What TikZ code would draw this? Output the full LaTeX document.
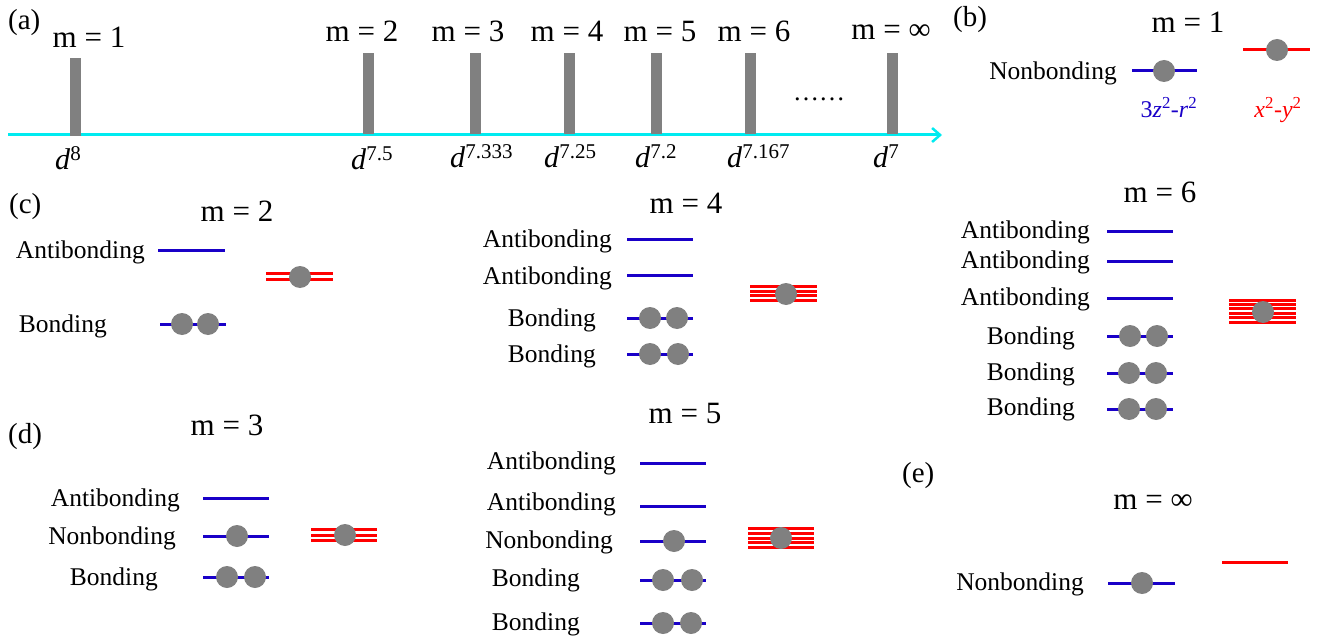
\documentclass[tikz,border=0pt]{standalone}
\usepackage{fontspec}
\setmainfont{Liberation Serif}
\usetikzlibrary{arrows.meta}
\definecolor{lvblue}{RGB}{25,0,200}
\definecolor{dotgray}{RGB}{128,128,128}
\definecolor{axcyan}{RGB}{0,235,240}
\tikzset{
  lbl/.style={font=\fontsize{25.5}{28}\selectfont, inner sep=0pt, anchor=east, yshift=-2pt},
  mlbl/.style={font=\fontsize{31}{34}\selectfont, inner sep=0pt, anchor=base},
  plbl/.style={font=\fontsize{29}{32}\selectfont, inner sep=0pt, anchor=base west},
  dlbl/.style={font=\fontsize{30}{34}\selectfont, inner sep=0pt, anchor=base west},
  olbl/.style={font=\fontsize{24}{26}\selectfont, inner sep=0pt, anchor=base},
  blev/.style={draw=lvblue, line width=3pt},
  rlev/.style={draw=red, line width=3pt},
  elec/.style={circle, fill=dotgray, minimum size=22pt, inner sep=0pt},
  barbox/.style={fill=dotgray},
  axis/.style={draw=axcyan, line width=3pt, -{Straight Barb[length=8pt,width=14pt,line width=2.5pt]}},
}
\newcommand\rstack[5]{%
  \foreach \i in {1,...,#4}{%
    \draw[rlev] (#1,{#3+(\i-(#4+1)/2)*#5}) -- (#2,{#3+(\i-(#4+1)/2)*#5});}}
\begin{document}
\begin{tikzpicture}[x=1pt,y=-1pt]
\useasboundingbox (0,0) rectangle (1327,639);

% ---------------- (a)
\node[plbl] (pa) at (8,30) {(a)};
\coordinate (axL) at (8,135);
\coordinate (axR) at (942,135);
\draw[axis] (axL) -- (axR);
\fill[barbox] (70,58) rectangle (80.5,136);
\foreach \x in {363,470,564,651,745,887}{\fill[barbox] (\x,53) rectangle (\x+10.5,134);}
\node[mlbl] (a1) at (89,48) {m = 1};
\node[mlbl] (a2) at (362,42) {m = 2};
\node[mlbl] (a3) at (468,42) {m = 3};
\node[mlbl] (a4) at (567,42) {m = 4};
\node[mlbl] (a5) at (660,42) {m = 5};
\node[mlbl] (a6) at (754,42) {m = 6};
\node[mlbl] (ainf) at (891,40) {m = ∞};
\node[dlbl] (d1) at (55,170) {\textit{d}\textsuperscript{8}};
\node[dlbl] (d2) at (351,170) {\textit{d}\textsuperscript{7.5}};
\node[dlbl] (d3) at (450,168) {\textit{d}\textsuperscript{7.333}};
\node[dlbl] (d4) at (544,168) {\textit{d}\textsuperscript{7.25}};
\node[dlbl] (d5) at (635,168) {\textit{d}\textsuperscript{7.2}};
\node[dlbl] (d6) at (727,168) {\textit{d}\textsuperscript{7.167}};
\node[dlbl] (d7) at (873,168) {\textit{d}\textsuperscript{7}};
\node[font=\fontsize{26}{28}\selectfont, inner sep=0pt, anchor=base] (dots) at (819,101) {\dots\dots};

% ---------------- (b)
\node[plbl] (pb) at (953,27) {(b)};
\node[mlbl] (b-m) at (1188,33) {m = 1};
\node[lbl] (b-nl) at (1117,71) {Nonbonding};
\coordinate (b-n1) at (1132,71); \coordinate (b-n2) at (1197,71);
\draw[blev] (b-n1) -- (b-n2);
\node[elec] (b-e1) at (1164,71) {};
\coordinate (b-r1) at (1243,50); \coordinate (b-r2) at (1310,50);
\draw[rlev] (b-r1) -- (b-r2);
\node[elec] (b-e2) at (1277,50) {};
\node[olbl, text=lvblue] (b-o1) at (1169,118) {3\textit{z}\textsuperscript{2}-\textit{r}\textsuperscript{2}};
\node[olbl, text=red] (b-o2) at (1278,118) {\textit{x}\textsuperscript{2}-\textit{y}\textsuperscript{2}};

% ---------------- (c)  m = 2
\node[plbl] (pc) at (9,213) {(c)};
\node[mlbl] (c-m) at (237,221) {m = 2};
\node[lbl] (c-al) at (145,250) {Antibonding};
\draw[blev] (158,250) -- (225,250);
\node[lbl] (c-bl) at (107,324) {Bonding};
\draw[blev] (160,324) -- (226,324);
\node[elec] (c-e1) at (182,324) {};
\node[elec] (c-e2) at (208,324) {};
\rstack{266}{333}{276.5}{2}{6}
\node[elec] (c-e3) at (300,277) {};

% ---------------- m = 4
\node[mlbl] (m4-m) at (686,213) {m = 4};
\node[lbl] (m4-a1) at (612,239) {Antibonding};
\draw[blev] (627,239) -- (693,239);
\node[lbl] (m4-a2) at (612,276) {Antibonding};
\draw[blev] (627,275) -- (693,275);
\node[lbl] (m4-b1) at (596,318) {Bonding};
\draw[blev] (627,318) -- (693,318);
\node[elec] (m4-e1) at (650,318) {};
\node[elec] (m4-e2) at (677,318) {};
\node[lbl] (m4-b2) at (596,354) {Bonding};
\draw[blev] (627,354) -- (693,354);
\node[elec] (m4-e3) at (650,354) {};
\node[elec] (m4-e4) at (678,354) {};
\rstack{750}{817}{293.5}{4}{4.7}
\node[elec] (m4-e5) at (786,294) {};

% ---------------- m = 6
\node[mlbl] (m6-m) at (1160,203) {m = 6};
\node[lbl] (m6-a1) at (1090,230) {Antibonding};
\draw[blev] (1107,231) -- (1173,231);
\node[lbl] (m6-a2) at (1090,260) {Antibonding};
\draw[blev] (1107,261) -- (1173,261);
\node[lbl] (m6-a3) at (1090,297) {Antibonding};
\draw[blev] (1107,298) -- (1173,298);
\node[lbl] (m6-b1) at (1075,336) {Bonding};
\draw[blev] (1107,336) -- (1173,336);
\node[elec] (m6-e1) at (1130,336) {};
\node[elec] (m6-e2) at (1157,336) {};
\node[lbl] (m6-b2) at (1075,372) {Bonding};
\draw[blev] (1107,373) -- (1173,373);
\node[elec] (m6-e3) at (1129,373) {};
\node[elec] (m6-e4) at (1156,373) {};
\node[lbl] (m6-b3) at (1075,407) {Bonding};
\draw[blev] (1107,409) -- (1173,409);
\node[elec] (m6-e5) at (1129,409) {};
\node[elec] (m6-e6) at (1156,409) {};
\rstack{1229}{1296}{311}{6}{4.4}
\node[elec] (m6-e7) at (1263,312) {};

% ---------------- (d)  m = 3
\node[plbl] (pd) at (8,443) {(d)};
\node[mlbl] (d-m) at (227,435) {m = 3};
\node[lbl] (d-al) at (180,498) {Antibonding};
\draw[blev] (203,498) -- (269,498);
\node[lbl] (d-nl) at (176,536) {Nonbonding};
\draw[blev] (203,536) -- (269,536);
\node[elec] (d-e1) at (237,536) {};
\node[lbl] (d-bl) at (158,577) {Bonding};
\draw[blev] (203,577) -- (269,577);
\node[elec] (d-e2) at (227,577) {};
\node[elec] (d-e3) at (255,577) {};
\rstack{311}{377}{535}{3}{5.5}
\node[elec] (d-e4) at (345,535) {};

% ---------------- m = 5
\node[mlbl] (m5-m) at (685,423) {m = 5};
\node[lbl] (m5-a1) at (616,461) {Antibonding};
\draw[blev] (640,463) -- (706,463);
\node[lbl] (m5-a2) at (616,502) {Antibonding};
\draw[blev] (640,506) -- (706,506);
\node[lbl] (m5-nl) at (613,540) {Nonbonding};
\draw[blev] (640,541) -- (706,541);
\node[elec] (m5-e1) at (674,541) {};
\node[lbl] (m5-b1) at (580,578) {Bonding};
\draw[blev] (640,580) -- (706,580);
\node[elec] (m5-e2) at (663,580) {};
\node[elec] (m5-e3) at (692,580) {};
\node[lbl] (m5-b2) at (580,622) {Bonding};
\draw[blev] (640,623) -- (706,623);
\node[elec] (m5-e4) at (663,623) {};
\node[elec] (m5-e5) at (691,623) {};
\rstack{748}{814}{538}{5}{4.75}
\node[elec] (m5-e6) at (781,538) {};

% ---------------- (e)  m = infinity
\node[plbl] (pe) at (902,482) {(e)};
\node[mlbl] (e-m) at (1153,509) {m = ∞};
\node[lbl] (e-nl) at (1084,582) {Nonbonding};
\draw[blev] (1108,583) -- (1175,583);
\node[elec] (e-e1) at (1142,583) {};
\draw[rlev] (1222,562) -- (1288,562);
\end{tikzpicture}
\end{document}
